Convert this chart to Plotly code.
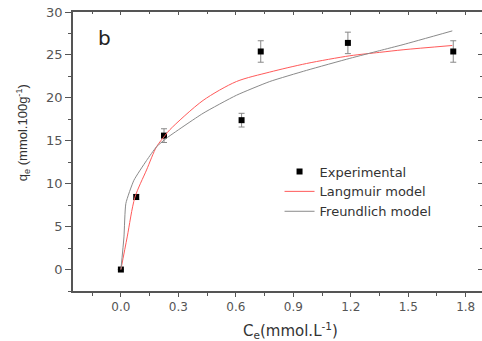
import plotly.graph_objects as go

# Experimental data
ce_exp = [0.0, 0.08, 0.225, 0.63, 0.73, 1.185, 1.735]
qe_exp = [0.0, 8.45, 15.6, 17.4, 25.4, 26.4, 25.4]
qe_err = [0.0, 0.3, 0.8, 0.8, 1.25, 1.25, 1.25]

# Langmuir model curve
ce_lang = [0.0, 0.033, 0.073, 0.134, 0.186, 0.23, 0.256, 0.429, 0.603, 0.777, 0.969, 1.195, 1.351, 1.473, 1.73]
qe_lang = [0.0, 3.8, 8.4, 11.6, 14.3, 15.6, 16.3, 19.7, 21.9, 23.0, 24.0, 24.9, 25.3, 25.6, 26.1]

# Freundlich model curve
ce_freu = [0.0, 0.016, 0.026, 0.068, 0.134, 0.186, 0.238, 0.429, 0.603, 0.777, 0.969, 1.195, 1.351, 1.473, 1.73]
qe_freu = [0.0, 3.8, 7.7, 10.4, 12.7, 14.3, 15.3, 18.2, 20.3, 21.9, 23.2, 24.6, 25.5, 26.2, 27.8]

x_ticks = [0.0, 0.3, 0.6, 0.9, 1.2, 1.5, 1.8]
x_ticklabels = ["0.0", "0.3", "0.6", "0.9", "1.2", "1.5", "1.8"]
y_ticks = [0, 5, 10, 15, 20, 25, 30]

FONT = "DejaVu Sans, sans-serif"
FONT_NARROW = "Liberation Sans, Arial, sans-serif"
AX = "#555555"

fig = go.Figure()
fig.add_trace(go.Scatter(
    x=ce_exp, y=qe_exp, mode="markers", name="Experimental",
    marker=dict(symbol="square", size=6, color="black"),
    error_y=dict(type="data", array=qe_err, color="#888888", thickness=1, width=3, visible=True),
))
fig.add_trace(go.Scatter(
    x=ce_lang, y=qe_lang, mode="lines", name="Langmuir model",
    line=dict(color="#ff5a5a", width=1, shape="spline", smoothing=0.8),
))
fig.add_trace(go.Scatter(
    x=ce_freu, y=qe_freu, mode="lines", name="Freundlich model",
    line=dict(color="#8a8a8a", width=1, shape="spline", smoothing=0.5),
))
# invisible trace to activate overlay axes
fig.add_trace(go.Scatter(x=[None], y=[None], xaxis="x2", yaxis="y2", showlegend=False, hoverinfo="skip"))

xr = [-0.25, 1.885]
yr = [-2.5, 30]

fig.update_layout(
    width=482, height=341,
    margin=dict(l=73, r=0, t=12, b=50),
    paper_bgcolor="white", plot_bgcolor="white",
    font=dict(family=FONT, size=12, color="#444444"),
    showlegend=True,
    legend=dict(x=0.505, y=0.482, xanchor="left", yanchor="top",
                bgcolor="rgba(0,0,0,0)", font=dict(family=FONT, size=13, color="#333333"),
                tracegroupgap=0, itemwidth=30),
    xaxis=dict(range=xr, tickvals=x_ticks, ticktext=x_ticklabels, showgrid=False, zeroline=False,
               showline=True, linecolor=AX, linewidth=1.5, ticks="outside", ticklen=4,
               tickcolor=AX, tickwidth=1, tickfont=dict(family=FONT, size=12, color="#555555"),
               minor=dict(dtick=0.15, tick0=0, ticks="outside", ticklen=3, tickcolor=AX, showgrid=False)),
    yaxis=dict(range=yr, tickvals=y_ticks, showgrid=False, zeroline=False,
               showline=True, linecolor=AX, linewidth=1.5, ticks="outside", ticklen=6,
               tickcolor=AX, tickwidth=1, tickfont=dict(family=FONT, size=13, color="#555555"),
               minor=dict(dtick=2.5, tick0=0, ticks="outside", ticklen=3, tickcolor=AX, showgrid=False)),
    xaxis2=dict(range=xr, overlaying="x", side="top", showticklabels=False, showgrid=False, zeroline=False,
                showline=True, linecolor=AX, linewidth=1.5, ticks="inside", ticklen=3,
                tickvals=x_ticks, tickcolor=AX,
                minor=dict(dtick=0.15, tick0=0, ticks="inside", ticklen=2, tickcolor=AX)),
    yaxis2=dict(range=yr, overlaying="y", side="right", showticklabels=False, showgrid=False, zeroline=False,
                showline=False, ticks="inside", ticklen=4, tickvals=y_ticks, tickcolor=AX,
                minor=dict(dtick=2.5, tick0=0, ticks="inside", ticklen=2, tickcolor=AX)),
    annotations=[
        dict(text="q<sub>e</sub> (mmol.100g<sup>-1</sup>)", xref="paper", yref="paper",
             x=-0.122, y=0.566, textangle=-90, showarrow=False,
             font=dict(family=FONT_NARROW, size=13, color="#333333"), xanchor="center", yanchor="middle"),
        dict(text="C<sub>e</sub>(mmol.L<sup>-1</sup>)", xref="paper", yref="paper",
             x=0.531, y=-0.14, showarrow=False,
             font=dict(family=FONT, size=15, color="#333333"), xanchor="center", yanchor="middle"),
        dict(text="b", xref="paper", yref="paper", x=0.078, y=0.907, showarrow=False,
             font=dict(family=FONT, size=20, color="#222222"), xanchor="center", yanchor="middle"),
    ],
)

fig.write_html("out.html")
